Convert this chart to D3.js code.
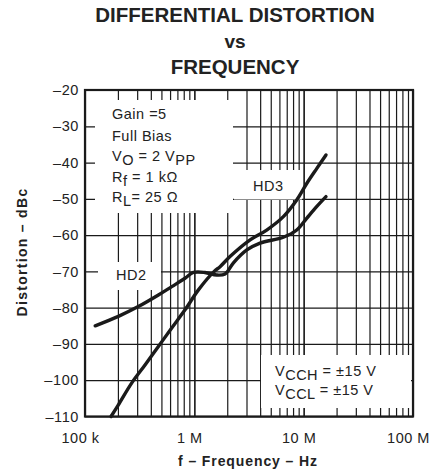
<!DOCTYPE html>
<html>
<head>
<meta charset="utf-8">
<script src="https://cdn.jsdelivr.net/npm/d3@7"></script>
<style>
  body { margin: 0; background: #fff; }
  svg { font-family: "Liberation Sans", Arial, sans-serif; }
</style>
</head>
<body>
<svg id="chart"></svg>
<script>
var width = 439, height = 473;

// tick values / labels
var freqTicks = [1e5, 1e6, 1e7, 1e8];
var freqTickLabels = ["100 k", "1 M", "10 M", "100 M"];
var dbTicks = [-20, -30, -40, -50, -60, -70, -80, -90, -100, -110];

// HD2 curve
var hd2Freq = [1.24e5, 2.02e5, 3.07e5, 4.69e5, 6.21e5, 8.22e5, 9.8e5, 1.25e6, 1.6e6, 1.91e6,
               2.27e6, 3.02e6, 3.99e6, 6.52e6, 8.64e6, 1.07e7, 1.32e7, 1.6e7];
var hd2Db = [-85, -82.4, -79.7, -76.5, -74.2, -71.9, -70.3, -70.3, -71, -70.7,
             -67.7, -64.1, -62.2, -60.6, -58.6, -55.3, -52.1, -49.4];

// HD3 curve
var hd3Freq = [1.73e5, 2.02e5, 2.67e5, 3.54e5, 4.69e5, 6.21e5, 8.22e5, 1.09e6, 1.52e6, 1.72e6,
               2.12e6, 3.24e6, 4.59e6, 6.52e6, 8.64e6, 1.07e7, 1.32e7, 1.6e7];
var hd3Db = [-110, -106.8, -100.8, -95.8, -90.7, -85.6, -80.6, -75.1, -70, -68.7,
             -65.9, -61.3, -58.6, -54.9, -50.3, -45.7, -41.6, -37.9];

var plot = {left: 85, right: 413, top: 90, bottom: 416.5};

var svg = d3.select("#chart")
    .attr("width", width)
    .attr("height", height);

var x = d3.scaleLog().domain([1e5, 1e8]).range([plot.left, plot.right]);
var y = d3.scaleLinear().domain([-110, -20]).range([plot.bottom, plot.top]);

// minor grid values 2..9 in each decade
var gridFreqs = [];
[1e5, 1e6, 1e7].forEach(function(dec) {
    for (var k = 1; k <= 10; k++) gridFreqs.push(dec * k);
});

// grid lines
svg.append("g")
    .attr("class", "xgrid")
    .attr("transform", "translate(0," + plot.bottom + ")")
    .call(d3.axisBottom(x).tickValues(gridFreqs).tickSize(-(plot.bottom - plot.top)).tickFormat(""))
    .call(function(g) { g.select(".domain").remove(); })
    .selectAll("line").attr("stroke", "#1a1a1a").attr("stroke-width", 1.2);

svg.append("g")
    .attr("class", "ygrid")
    .attr("transform", "translate(" + plot.left + ",0)")
    .call(d3.axisLeft(y).tickValues(dbTicks).tickSize(-(plot.right - plot.left)).tickFormat(""))
    .call(function(g) { g.select(".domain").remove(); })
    .selectAll("line").attr("stroke", "#1a1a1a").attr("stroke-width", 1.2);

// white boxes behind annotations
var boxes = [
    [95, 100, 233, 213],
    [98, 262, 161, 290],
    [234, 170, 302, 199.5],
    [261, 355, 411, 408]
];
svg.selectAll("rect.box").data(boxes).enter().append("rect")
    .attr("class", "box")
    .attr("x", function(d) { return d[0]; })
    .attr("y", function(d) { return d[1]; })
    .attr("width", function(d) { return d[2] - d[0]; })
    .attr("height", function(d) { return d[3] - d[1]; })
    .attr("fill", "#fff");

// frame
svg.append("rect")
    .attr("x", plot.left)
    .attr("y", plot.top)
    .attr("width", plot.right - plot.left)
    .attr("height", plot.bottom - plot.top)
    .attr("fill", "none")
    .attr("stroke", "#1a1a1a")
    .attr("stroke-width", 2.2);

// curves
var line = d3.line()
    .x(function(d) { return x(d[0]); })
    .y(function(d) { return y(d[1]); })
    .curve(d3.curveCatmullRom.alpha(0.5));

[[hd2Freq, hd2Db], [hd3Freq, hd3Db]].forEach(function(s) {
    svg.append("path")
        .datum(d3.zip(s[0], s[1]))
        .attr("d", line)
        .attr("fill", "none")
        .attr("stroke", "#1a1a1a")
        .attr("stroke-width", 3.4)
        .attr("stroke-linejoin", "round")
        .attr("stroke-linecap", "round");
});

// y tick labels
var yAxis = svg.append("g")
    .attr("transform", "translate(" + (plot.left - 6) + ",0)")
    .call(d3.axisLeft(y).tickValues(dbTicks).tickSize(0)
        .tickFormat(function(d) { return "\u2013" + Math.abs(d); }));
yAxis.select(".domain").remove();
yAxis.selectAll("text")
    .attr("x", 0)
    .attr("fill", "#222")
    .attr("letter-spacing", 0.6)
    .style("font-size", "14.5px")
    .style("font-family", "Liberation Sans, Arial, sans-serif");

// x tick labels
var xAxis = svg.append("g")
    .attr("transform", "translate(-5," + plot.bottom + ")")
    .call(d3.axisBottom(x).tickValues(freqTicks).tickSize(0)
        .tickFormat(function(d, i) { return freqTickLabels[i]; }));
xAxis.select(".domain").remove();
xAxis.selectAll("text")
    .attr("y", 16)
    .attr("fill", "#222")
    .attr("letter-spacing", 0.5)
    .style("font-size", "14.5px")
    .style("font-family", "Liberation Sans, Arial, sans-serif");

// title
var title = ["DIFFERENTIAL DISTORTION", "vs", "FREQUENCY"];
var titleY = [21.5, 48, 73.5];
svg.selectAll("text.title").data(title).enter().append("text")
    .attr("class", "title")
    .attr("x", 235)
    .attr("y", function(d, i) { return titleY[i]; })
    .attr("text-anchor", "middle")
    .attr("font-weight", "bold")
    .attr("font-size", function(d, i) { return i == 1 ? 19 : 20.5; })
    .attr("fill", "#222")
    .text(function(d) { return d; });

// axis titles
svg.append("text")
    .attr("x", 248)
    .attr("y", 466)
    .attr("text-anchor", "middle")
    .attr("font-weight", "bold")
    .attr("font-size", 14)
    .attr("letter-spacing", 0.9)
    .attr("fill", "#222")
    .text("f \u2013 Frequency \u2013 Hz");

svg.append("text")
    .attr("transform", "translate(26.5,252) rotate(-90)")
    .attr("text-anchor", "middle")
    .attr("font-weight", "bold")
    .attr("font-size", 14)
    .attr("letter-spacing", 1.3)
    .attr("fill", "#222")
    .text("Distortion \u2013 dBc");

// annotation text; each line is a list of [text, subscript?]
function addLine(xp, yp, parts) {
    var t = svg.append("text")
        .attr("x", xp)
        .attr("y", yp)
        .attr("font-size", 14.5)
        .attr("letter-spacing", 0.5)
        .attr("fill", "#222");
    var shift = 0;
    parts.forEach(function(p) {
        var dy = 0;
        if (p[1] && shift == 0) { dy = 4; shift = 4; }
        else if (!p[1] && shift != 0) { dy = -4; shift = 0; }
        t.append("tspan").attr("dy", dy).text(p[0]);
    });
}

addLine(112, 119, [["Gain =5"]]);
addLine(112, 140.5, [["Full Bias"]]);
addLine(112, 161, [["V"], ["O", 1], [" = 2 V"], ["PP", 1]]);
addLine(112, 181.5, [["R"], ["f", 1], [" = 1 k\u03a9"]]);
addLine(112, 202, [["R"], ["L", 1], ["= 25 \u03a9"]]);

addLine(116, 280, [["HD2"]]);
addLine(253, 190.5, [["HD3"]]);

addLine(275, 376, [["V"], ["CCH", 1], [" = \u00b115 V"]]);
addLine(275, 395, [["V"], ["CCL", 1], [" = \u00b115 V"]]);
</script>
</body>
</html>
